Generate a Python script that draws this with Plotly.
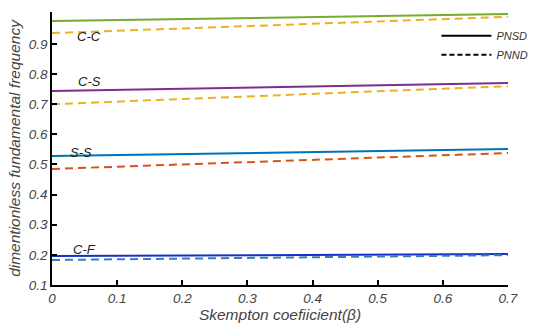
import plotly.graph_objects as go

beta = [0.0, 0.7]
cc_pnsd = [0.976, 0.999]
cc_pnnd = [0.936, 0.990]
cs_pnsd = [0.744, 0.770]
cs_pnnd = [0.700, 0.760]
ss_pnsd = [0.528, 0.551]
ss_pnnd = [0.485, 0.538]
cf_pnsd = [0.196, 0.203]
cf_pnnd = [0.183, 0.199]

labels = ["C-C", "C-S", "S-S", "C-F"]
label_x = [0.057, 0.058, 0.045, 0.050]
label_y = [0.925, 0.777, 0.540, 0.218]

xticks = [0, 0.1, 0.2, 0.3, 0.4, 0.5, 0.6, 0.7]
xticklabels = ["0", "0.1", "0.2", "0.3", "0.4", "0.5", "0.6", "0.7"]
yticks = [0.1, 0.2, 0.3, 0.4, 0.5, 0.6, 0.7, 0.8, 0.9]
yticklabels = ["0.1", "0.2", "0.3", "0.4", "0.5", "0.6", "0.7", "0.8", "0.9"]

DASH = "8px,5px"
series = [
    (cc_pnsd, "#77AC30", "solid"),
    (cc_pnnd, "#EDB120", DASH),
    (cs_pnsd, "#7E2F8E", "solid"),
    (cs_pnnd, "#EDB120", DASH),
    (ss_pnsd, "#0072BD", "solid"),
    (ss_pnnd, "#D95319", DASH),
    (cf_pnsd, "#1530C8", "solid"),
    (cf_pnnd, "#3C7DB8", DASH),
]

fig = go.Figure()
for vals, col, dash in series:
    fig.add_trace(go.Scatter(x=beta, y=vals, mode="lines",
                             line=dict(color=col, width=2, dash=dash),
                             showlegend=False, hoverinfo="skip"))

fig.add_trace(go.Scatter(x=[None], y=[None], mode="lines", name="PNSD",
                         line=dict(color="black", width=2, dash="solid")))
fig.add_trace(go.Scatter(x=[None], y=[None], mode="lines", name="PNND",
                         line=dict(color="black", width=2, dash="5px,3px")))

for t, xx, yy in zip(labels, label_x, label_y):
    fig.add_annotation(x=xx, y=yy, text=t, showarrow=False,
                       font=dict(family="Liberation Sans", size=13, color="#222", style="italic"))

axis_common = dict(showline=True, linecolor="black", linewidth=1.5,
                   ticks="inside", ticklen=5, tickcolor="black", tickwidth=1.5,
                   showgrid=False, zeroline=False, automargin=False,
                   tickfont=dict(family="Liberation Sans", size=13.5, color="#444", style="italic"))

fig.update_layout(
    width=546, height=328,
    margin=dict(l=52, r=38, t=12, b=43),
    paper_bgcolor="white", plot_bgcolor="white",
    xaxis=dict(range=[0, 0.7], tickvals=xticks, ticktext=xticklabels,
               title=dict(text="Skempton coefiicient(β)", standoff=2,
                          font=dict(family="Liberation Sans", size=15.5, color="#444", style="italic")),
               **axis_common),
    yaxis=dict(range=[0.1, 1.006], tickvals=yticks, ticktext=yticklabels,
               title=dict(text="dimentionless fundamental frequency", standoff=4,
                          font=dict(family="Liberation Sans", size=15.5, color="#444", style="italic")),
               **axis_common),
    legend=dict(x=0.843, y=0.966, xanchor="left", yanchor="top", itemwidth=50,
                bgcolor="rgba(0,0,0,0)", tracegroupgap=0,
                font=dict(family="Liberation Sans", size=11, color="#333", style="italic")),
)

fig.write_html("out.html", config={"displayModeBar": False},
               post_script="document.body.style.margin='0';")
